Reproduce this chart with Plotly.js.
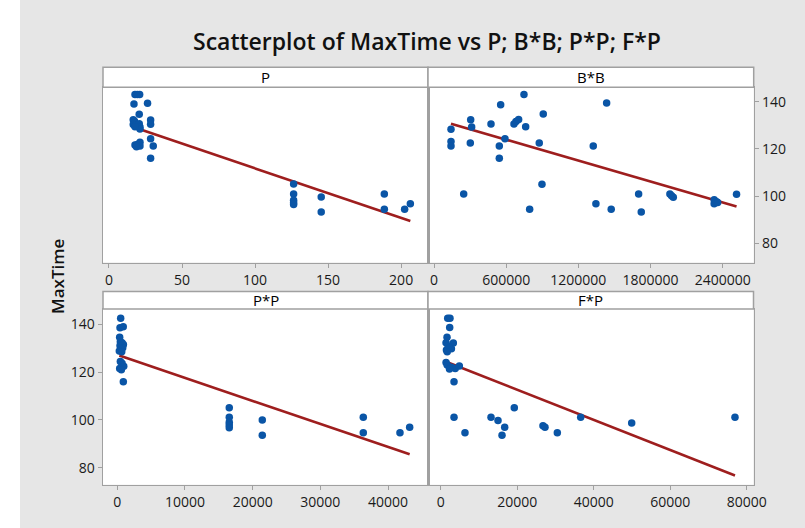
<!DOCTYPE html>
<html><head><meta charset="utf-8">
<script src="https://cdn.plot.ly/plotly-3.0.1.min.js"></script>
<style>html,body{margin:0;padding:0;background:#e6e6e6}</style>
</head><body><div id="chart" style="width:805px;height:528px"></div>
<script>
// ---- data ----
const chartTitle = 'Scatterplot of MaxTime vs P; B*B; P*P; F*P';
const yLabel = 'MaxTime';
const panelTitles = ['P', 'B*B', 'P*P', 'F*P'];

const pX = [17.8,19.4,21.0,17.1,26.4,20.7,28.5,28.5,16.6,17.4,16.6,18.4,20.7,21.2,21.2,17.8,28.5,30.3,17.8,19.4,21.2,21.2,18.8,28.5,126.4,126.4,126.4,126.4,126.4,145.3,145.3,188.5,188.5,202.4,206.3];
const pY = [143,143,143,139,139.3,134.7,132.2,130.5,132.4,131.8,130.3,130.1,130.7,129.3,128.4,129.4,124.3,121.2,121.7,121.9,122.8,121.2,120.9,116.1,105.1,100.9,98.3,97.2,96.5,99.6,93.3,100.9,94.4,94.4,96.8];

const bbX = [141300,141300,141300,246800,305000,313000,301700,473700,554000,542900,542900,590000,664800,681400,703600,747900,762000,795000,875000,897500,908300,1324000,1346000,1435000,1473000,1701000,1723000,1961000,1975000,1989000,2329000,2329000,2349000,2358000,2515000];
const bbY = [128.3,123.1,121.2,100.9,132.4,129.3,122.5,130.6,138.7,121.2,116.1,124.3,130.6,131.6,132.5,143.0,129.4,94.4,122.5,105.0,134.8,121.2,96.8,139.4,94.5,100.9,93.3,100.9,100.2,99.5,98.5,96.8,97.6,97.3,100.8];

const ppX = [500,400,880,350,450,700,900,400,800,600,300,650,450,700,950,350,600,890,16540,16540,16540,16540,16540,21420,21420,36340,36340,41760,43190];
const ppY = [142.5,138.6,139.0,134.6,132.7,132.3,131.5,131.0,130.2,129.5,128.8,128.5,124.4,123.7,122.4,121.5,121.0,116.0,105.1,101.1,99.0,97.9,96.7,100.0,93.6,101.1,94.6,94.6,96.9];

const fpX = [1830,2430,2350,1650,1400,3300,2000,2800,1500,2300,1700,1400,1700,2800,3800,2300,4870,3480,3480,6350,13150,14980,16730,16030,19240,26740,27270,30490,36600,49930,76940];
const fpY = [142.5,142.5,138.7,134.6,132.3,132.2,130.8,129.8,129.3,130.0,128.5,124.0,123.0,122.0,121.5,121.3,122.6,116.0,101.1,94.6,101.1,99.8,96.9,93.6,105.1,97.6,96.9,94.6,101.1,98.7,101.1];

// fitted regression lines (intercept, slope)
const fitIntercepts = [132.75, 132.77, 127.2, 125.2];
const fitSlopes = [-0.2099, -0.00001477, -0.000962, -0.00063];

const xTickVals = [
  [0, 50, 100, 150, 200],
  [0, 600000, 1200000, 1800000, 2400000],
  [0, 10000, 20000, 30000, 40000],
  [0, 20000, 40000, 60000, 80000]
];
const yTickVals = [80, 100, 120, 140];

// ---- build ----
const W = 805, H = 528;
const px = v => v / W, py = v => 1 - v / H;
const xs = [pX, bbX, ppX, fpX], ys = [pY, bbY, ppY, fpY];
const colX = [[103, 428], [428, 753.7], [103, 428], [428, 753.5]];
const rowY = [[87.3, 262.5], [87.3, 262.5], [309, 484.7], [309, 484.7]];
const stripTop = [67.3, 67.3, 291.5, 291.5];
const xRanges = [[-4.1, 218.4], [-49900, 2657600], [-2112, 45900], [-3320, 81780]];
const yRanges = [[71.9, 146.1], [71.9, 146.1], [72.9, 146.4], [72.9, 146.4]];

const blue = '#0a55a6', red = '#9e1e1e', frame = '#a0a0a0';
const traces = [], shapes = [], annotations = [];
const layout = {
  width: W, height: H,
  margin: {l: 0, r: 0, t: 0, b: 0},
  paper_bgcolor: '#e6e6e6', plot_bgcolor: '#ffffff',
  showlegend: false,
  font: {family: 'Open Sans, Noto Sans, sans-serif', size: 14, color: '#1a1a1a'},
  title: {text: chartTitle, x: 427 / W, y: py(42), xanchor: 'center', yanchor: 'middle',
          font: {family: 'Open Sans, sans-serif', size: 23, color: '#111111', weight: 600}},
};

for (let i = 0; i < 4; i++) {
  const s = i === 0 ? '' : String(i + 1);
  const xa = 'x' + s, ya = 'y' + s;
  const xmin = Math.min(...xs[i]), xmax = Math.max(...xs[i]);
  traces.push({
    type: 'scatter', mode: 'lines', xaxis: xa, yaxis: ya, hoverinfo: 'skip',
    x: [xmin, xmax], y: [fitIntercepts[i] + fitSlopes[i] * xmin, fitIntercepts[i] + fitSlopes[i] * xmax],
    line: {color: red, width: 2.6}
  });
  traces.push({
    type: 'scatter', mode: 'markers', xaxis: xa, yaxis: ya,
    x: xs[i], y: ys[i], marker: {color: blue, size: 7.5}
  });
  layout['xaxis' + s] = {
    domain: [px(colX[i][0]), px(colX[i][1])], range: xRanges[i], anchor: ya,
    tickmode: 'array', tickvals: xTickVals[i], ticktext: xTickVals[i].map(String),
    ticks: 'outside', ticklen: 4, tickcolor: frame, tickwidth: 1,
    showline: true, linecolor: frame, linewidth: 1.5, mirror: true,
    showgrid: false, zeroline: false, tickfont: {size: 14}
  };
  const showY = (i === 1 || i === 2);
  layout['yaxis' + s] = {
    domain: [py(rowY[i][1]), py(rowY[i][0])], range: yRanges[i], anchor: xa,
    side: i === 1 ? 'right' : 'left',
    tickmode: 'array', tickvals: yTickVals, ticktext: yTickVals.map(String),
    ticks: showY ? 'outside' : '', showticklabels: showY, ticklen: 4, tickcolor: frame,
    showline: true, linecolor: frame, linewidth: 1.5, mirror: true,
    showgrid: false, zeroline: false, tickfont: {size: 14}
  };
  shapes.push({
    type: 'rect', xref: 'paper', yref: 'paper',
    x0: px(colX[i][0]), x1: px(colX[i][1]), y0: py(rowY[i][0]), y1: py(stripTop[i]),
    fillcolor: '#ffffff', line: {color: frame, width: 1.5}
  });
  annotations.push({
    xref: 'paper', yref: 'paper', x: px((colX[i][0] + colX[i][1]) / 2), y: py((rowY[i][0] + stripTop[i]) / 2),
    text: panelTitles[i], showarrow: false, xanchor: 'center', yanchor: 'middle',
    font: {size: 15, color: '#000000'}
  });
}
// white margin at the left edge
shapes.push({type: 'rect', xref: 'paper', yref: 'paper', x0: 0, x1: px(20), y0: 0, y1: 1,
  fillcolor: '#ffffff', line: {width: 0}, layer: 'below'});
annotations.push({
  xref: 'paper', yref: 'paper', x: px(57), y: py(277), text: yLabel, textangle: -90,
  showarrow: false, xanchor: 'center', yanchor: 'middle',
  font: {size: 17, color: '#111111', weight: 600}
});
layout.shapes = shapes;
layout.annotations = annotations;

Plotly.newPlot('chart', traces, layout, {displayModeBar: false, staticPlot: true});
</script></body></html>
